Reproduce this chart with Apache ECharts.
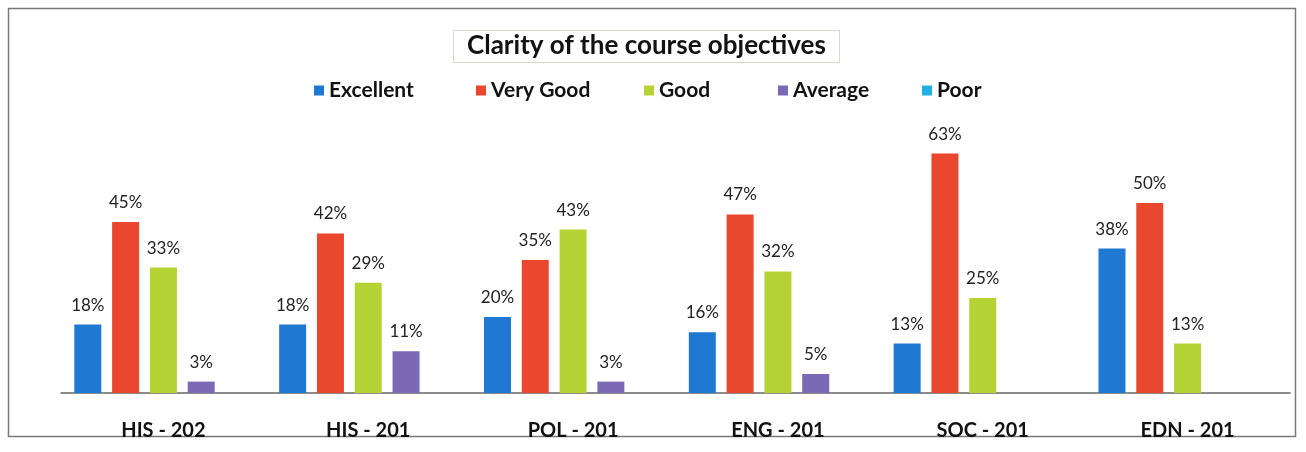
<!DOCTYPE html>
<html>
<head>
<meta charset="utf-8">
<script src="https://cdn.jsdelivr.net/npm/echarts@6/dist/echarts.min.js"></script>
<style>
html,body{margin:0;padding:0;background:#fff;}
#c{width:1306px;height:452px;}
</style>
</head>
<body>
<div id="c"></div>
<script>
const categories = ['HIS - 202', 'HIS - 201', 'POL - 201', 'ENG - 201', 'SOC - 201', 'EDN - 201'];
const seriesNames = ['Excellent', 'Very Good', 'Good', 'Average', 'Poor'];
const excellent = [18, 18, 20, 16, 13, 38];
const veryGood = [45, 42, 35, 47, 63, 50];
const good = [33, 29, 43, 32, 25, 13];
const average = [3, 11, 3, 5, null, null];
const poor = [null, null, null, null, null, null];
const colors = ['#1f78d1', '#e9472e', '#b6d335', '#7b69b6', '#24aee6'];

const FONT = 'Lato';
const allData = [excellent, veryGood, good, average, poor];
const legendX = [309, 471, 639, 773, 917];

const chart = echarts.init(document.getElementById('c'));
chart.setOption({
  animation: false,
  backgroundColor: '#fff',
  title: {
    text: 'Clarity of the course objectives',
    left: 453, top: 30,
    padding: [3, 14, 4, 14],
    borderColor: '#d8d8c8', borderWidth: 1,
    textStyle: { fontFamily: FONT, fontWeight: 'bold', fontSize: 26, color: '#111' }
  },
  legend: seriesNames.map((n, i) => ({
    data: [n], left: legendX[i], top: 75,
    itemWidth: 10, itemHeight: 10, icon: 'rect', itemGap: 0,
    textStyle: { fontFamily: FONT, fontWeight: 'bold', fontSize: 21, color: '#111' }
  })),
  graphic: [{
    type: 'rect', shape: { x: 8.5, y: 8.5, width: 1287, height: 428 },
    style: { fill: null, stroke: '#777', lineWidth: 1.5 }, silent: true
  }],
  grid: { left: 61, right: 16, top: 127, bottom: 59 },
  xAxis: {
    type: 'category', data: categories,
    axisTick: { show: false },
    axisLine: { lineStyle: { color: '#666', width: 1.5 } },
    axisLabel: { margin: 28, fontFamily: FONT, fontWeight: 'bold', fontSize: 20, color: '#111' }
  },
  yAxis: { type: 'value', min: 0, max: 70, show: false, splitLine: { show: false } },
  series: seriesNames.map((n, i) => ({
    name: n, type: 'bar', data: allData[i],
    barWidth: 27, barGap: '40%',
    itemStyle: { color: colors[i] },
    label: {
      show: true, position: 'top', distance: 11,
      formatter: p => p.value == null ? '' : p.value + '%',
      fontFamily: FONT, fontSize: 17, color: '#222'
    }
  }))
});
</script>
</body>
</html>
